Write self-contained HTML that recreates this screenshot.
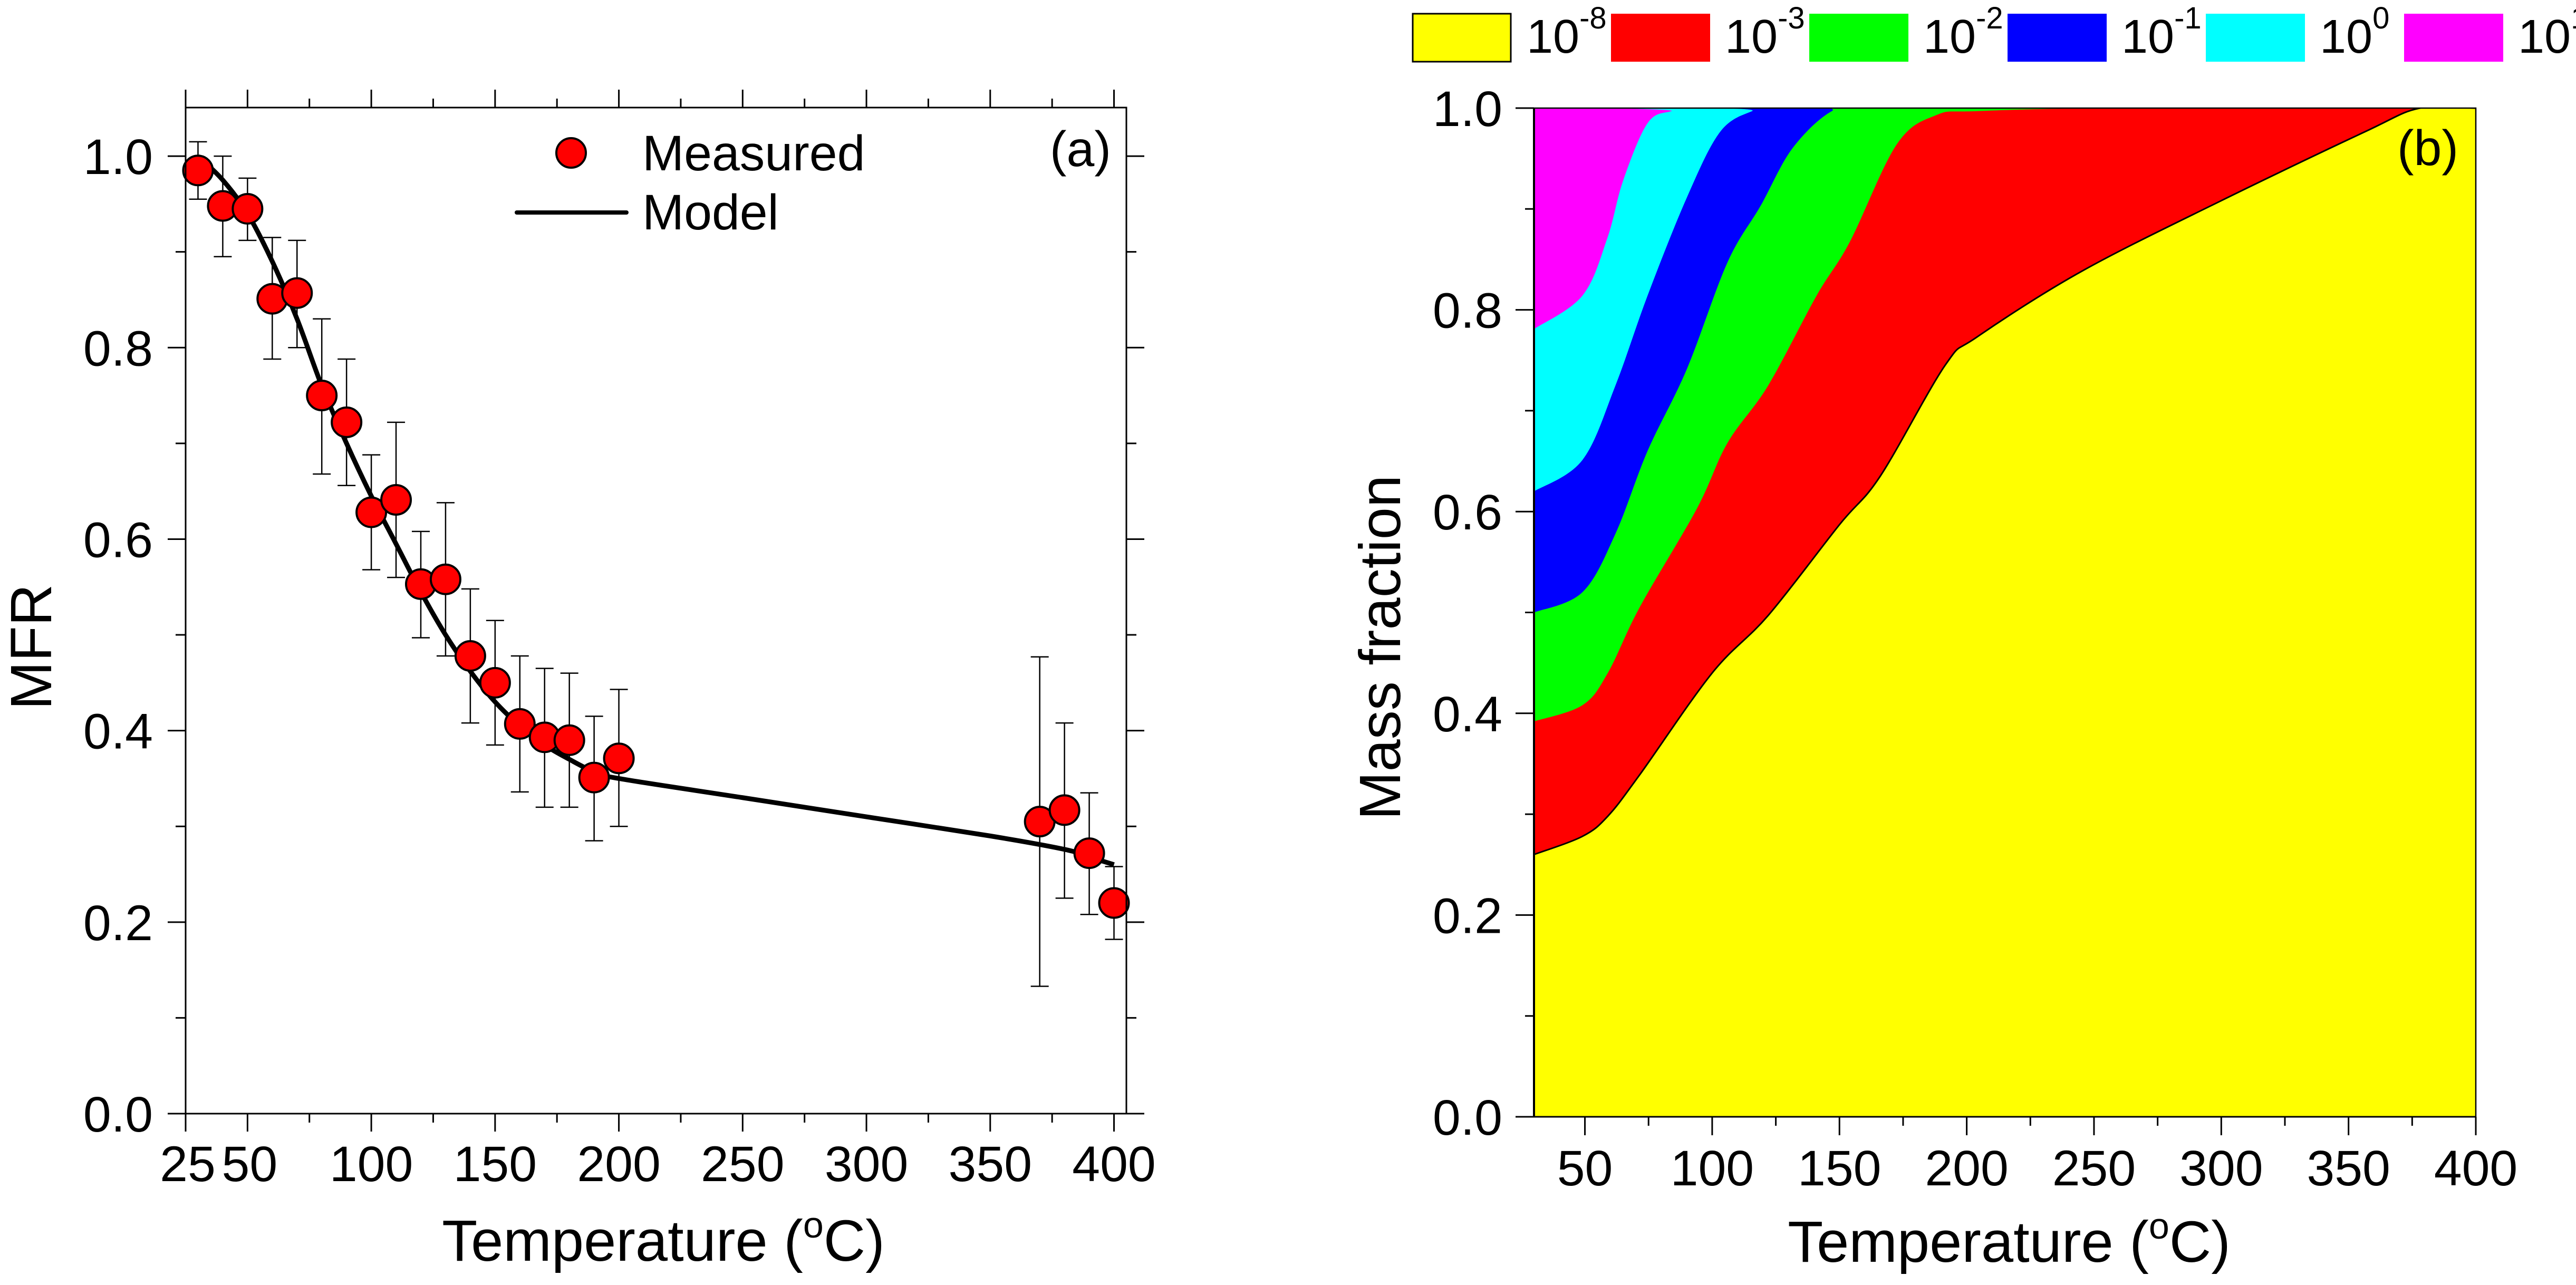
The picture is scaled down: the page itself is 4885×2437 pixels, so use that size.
<!DOCTYPE html>
<html><head><meta charset="utf-8"><style>
html,body{margin:0;padding:0;background:#fff;}
svg{display:block;font-family:"Liberation Sans",Arial,sans-serif;}
</style></head><body>
<svg id="fig" width="4885" height="2437" viewBox="0 0 4885 2437" xmlns="http://www.w3.org/2000/svg">
<defs><clipPath id="clipb"><rect x="2909" y="205" width="1786" height="1913"/></clipPath></defs>
<rect width="4885" height="2437" fill="#fff"/>
<g id="pa"></g>
<g id="pb"></g>
</svg>
<script>
// ---- Panel (a) data ----
const aTemps = [30,40,50,60,70,80,90,100,110,120,130,140,150,160,170,180,190,200,370,380,390,400];
const aMFR = [0.985,0.948,0.945,0.851,0.857,0.750,0.722,0.628,0.641,0.553,0.558,0.478,0.450,0.407,0.393,0.390,0.351,0.371,0.305,0.317,0.272,0.220];
const aErrHi = [1.015,1.0,0.977,0.915,0.912,0.83,0.788,0.688,0.722,0.608,0.638,0.548,0.515,0.478,0.465,0.46,0.415,0.443,0.477,0.408,0.335,0.258];
const aErrLo = [0.955,0.895,0.912,0.788,0.80,0.668,0.656,0.568,0.56,0.497,0.478,0.408,0.385,0.336,0.32,0.32,0.285,0.30,0.133,0.225,0.208,0.182];
const modelT = [30,40,50,60,70,80,90,100,110,120,130,140,150,160,170,180,190,200,250,300,350,380,390,400];
const modelY = [1.0,0.975,0.94,0.89,0.83,0.76,0.70,0.645,0.595,0.545,0.50,0.462,0.43,0.405,0.385,0.37,0.357,0.35,0.33,0.31,0.29,0.276,0.268,0.26];
const aXTicks = [25,50,100,150,200,250,300,350,400];
const aYTicks = [0.0,0.2,0.4,0.6,0.8,1.0];
// ---- Panel (b) data ----
const bXTicks = [50,100,150,200,250,300,350,400];
const bYTicks = [0.0,0.2,0.4,0.6,0.8,1.0];
const bandLabels = ["-8","-3","-2","-1","0","1"];
const bandColors = ["#ffff00","#ff0000","#00ff00","#0000ff","#00ffff","#ff00ff"];
const yellowT = [30,49,59,71.5,100,122,150,166,191.5,204,245,299,356,378,400];
const yellowY = [0.26,0.278,0.298,0.339,0.44,0.497,0.587,0.635,0.745,0.773,0.838,0.907,0.976,1.0,1.0];
const redT = [30,49,59,71.5,94,106,122,141,154,172.5,188,204,261,400];
const redY = [0.392,0.408,0.44,0.505,0.603,0.668,0.725,0.814,0.867,0.964,0.993,0.997,1.0,1.0];
const greenT = [30,49,62,74.6,90,106,119,131.5,147,160,400];
const greenY = [0.50,0.52,0.578,0.66,0.741,0.847,0.903,0.96,0.997,1.0,1.0];
const blueT = [30,49,62,74.6,90,103,115.7,125,400];
const blueY = [0.62,0.651,0.725,0.814,0.911,0.976,0.997,1.0,1.0];
const cyanT = [30,49,58.8,65,74.6,84,93.6,400];
const cyanY = [0.781,0.814,0.871,0.928,0.985,0.997,1.0,1.0];

const NS="http://www.w3.org/2000/svg";
function mk(parent,tag,attrs,text){const e=document.createElementNS(NS,tag);for(const k in attrs)e.setAttribute(k,attrs[k]);if(text!==undefined)e.textContent=text;parent.appendChild(e);return e;}
function smooth(pts){let d="M"+pts[0][0]+","+pts[0][1];for(let i=0;i<pts.length-1;i++){const p0=pts[Math.max(0,i-1)],p1=pts[i],p2=pts[i+1],p3=pts[Math.min(pts.length-1,i+2)];const c1=[p1[0]+(p2[0]-p0[0])/6,p1[1]+(p2[1]-p0[1])/6],c2=[p2[0]-(p3[0]-p1[0])/6,p2[1]-(p3[1]-p1[1])/6];d+=" C"+c1[0]+","+c1[1]+" "+c2[0]+","+c2[1]+" "+p2[0]+","+p2[1];}return d;}

// ===== Panel A =====
const pa=document.getElementById('pa');
const aL=352,aR=2136,aT=204,aB=2112;
const ax=t=>aL+(t-25)*(aR-aL)/380;
const ay=v=>aB-v*(aB-aT)/1.0507;
const mpts=modelT.map((t,i)=>[ax(t),ay(modelY[i])]);
let ml=mk(pa,'path',{d:smooth(mpts),fill:'none',stroke:'#000','stroke-width':9,'stroke-linejoin':'round'});

aTemps.forEach((t,i)=>{
  const g=mk(pa,'g',{});
  
  const x=ax(t);
  mk(g,'line',{x1:x,x2:x,y1:ay(aErrHi[i]),y2:ay(aErrLo[i]),stroke:'#000','stroke-width':2.5});
  mk(g,'line',{x1:x-17,x2:x+17,y1:ay(aErrHi[i]),y2:ay(aErrHi[i]),stroke:'#000','stroke-width':2.5});
  mk(g,'line',{x1:x-17,x2:x+17,y1:ay(aErrLo[i]),y2:ay(aErrLo[i]),stroke:'#000','stroke-width':2.5});
});
aTemps.forEach((t,i)=>{
  const c=mk(pa,'circle',{cx:ax(t),cy:ay(aMFR[i]),r:28,fill:'#ff0000',stroke:'#000','stroke-width':4});
  
});
let fr=mk(pa,'rect',{x:aL,y:aT,width:aR-aL,height:aB-aT,fill:'none',stroke:'#000','stroke-width':3});

for(let t=25;t<=400;t+=25){
  const major=aXTicks.includes(t);const L=major?34:17;const x=ax(t);
  mk(pa,'line',{x1:x,x2:x,y1:aB,y2:aB+L,stroke:'#000','stroke-width':3});
  mk(pa,'line',{x1:x,x2:x,y1:aT,y2:aT-L,stroke:'#000','stroke-width':3});
}
aXTicks.forEach(t=>{const tx=mk(pa,'text',{x:t==25?ax(t)+4:(t==50?ax(t)+4:ax(t)),y:2240,'font-size':95,'text-anchor':'middle'},String(t));
  });
for(let k=0;k<=10;k++){const v=k/10;const major=k%2==0;const L=major?34:19;const y=ay(v);
  mk(pa,'line',{x1:aL-L,x2:aL,y1:y,y2:y,stroke:'#000','stroke-width':3});
  mk(pa,'line',{x1:aR,x2:aR+L,y1:y,y2:y,stroke:'#000','stroke-width':3});}
aYTicks.forEach(v=>{const tx=mk(pa,'text',{x:290,y:ay(v)+34,'font-size':95,'text-anchor':'end'},v.toFixed(1));
  });
let yt=mk(pa,'text',{x:0,y:0,'font-size':110,'text-anchor':'middle',transform:'translate(97,1227) rotate(-90)'},'MFR');

let xt=mk(pa,'text',{x:1258,y:2391,'font-size':110,'text-anchor':'middle'});

xt.appendChild(document.createTextNode('Temperature ('));
mk(xt,'tspan',{'font-size':70,dy:-44},'o');mk(xt,'tspan',{dy:44},'C)');
let lg=mk(pa,'g',{});
mk(lg,'circle',{cx:1083,cy:290,r:28,fill:'#ff0000',stroke:'#000','stroke-width':4});
mk(lg,'text',{x:1218,y:323,'font-size':95},'Measured');
mk(lg,'line',{x1:980,x2:1188,y1:403,y2:403,stroke:'#000','stroke-width':8,'stroke-linecap':'round'});
mk(lg,'text',{x:1218,y:435,'font-size':95},'Model');
let la=mk(pa,'text',{x:2107,y:315,'font-size':95,'text-anchor':'end'},'(a)');


// ===== Panel B =====
const pb=document.getElementById('pb');
const bL=2909,bR=4695,bT=205,bB=2118;
const bx=t=>bL+(t-30)*(bR-bL)/370;
const by=v=>bB-v*(bB-bT);
const bandG=mk(pb,'g',{'clip-path':'url(#clipb)'});

let bg=mk(bandG,'rect',{x:bL,y:bT,width:bR-bL,height:bB-bT,fill:bandColors[5]});

const bands=[[cyanT,cyanY,4,'band-10^0'],[blueT,blueY,3,'band-10^-1'],[greenT,greenY,2,'band-10^-2'],[redT,redY,1,'band-10^-3'],[yellowT,yellowY,0,'band-10^-8']];
bands.forEach(([T,Y,ci,name])=>{
  const pts=T.map((t,i)=>[bx(t),by(Y[i])]);
  const d=smooth(pts)+" L"+bx(400)+","+by(0)+" L"+bx(30)+","+by(0)+" Z";
  const p=mk(bandG,'path',{d:d,fill:bandColors[ci],stroke:'none'});
  
  if(ci===0){const e=mk(bandG,'path',{d:smooth(pts),fill:'none',stroke:'#000','stroke-width':3});
    }
});
let fb=mk(pb,'rect',{x:bL,y:bT,width:bR-bL,height:bB-bT,fill:'none',stroke:'#000','stroke-width':2.5});

mk(pb,'line',{x1:bL,x2:bL,y1:bT,y2:bB,stroke:'#000','stroke-width':4});
mk(pb,'line',{x1:bL-35,x2:bR,y1:bB,y2:bB,stroke:'#000','stroke-width':3});
for(let t=50;t<=400;t+=25){const major=bXTicks.includes(t);const L=major?35:17;const x=bx(t);
  mk(pb,'line',{x1:x,x2:x,y1:bB,y2:bB+L,stroke:'#000','stroke-width':3});}
bXTicks.forEach(t=>{const tx=mk(pb,'text',{x:bx(t),y:2248,'font-size':95,'text-anchor':'middle'},String(t));
  });
for(let k=0;k<=10;k++){const v=k/10;const L=k%2==0?35:17;const y=by(v);
  mk(pb,'line',{x1:bL-L,x2:bL,y1:y,y2:y,stroke:'#000','stroke-width':3});}
bYTicks.forEach(v=>{const tx=mk(pb,'text',{x:2849,y:by(v)+34,'font-size':95,'text-anchor':'end'},v.toFixed(1));
  });
let byt=mk(pb,'text',{x:0,y:0,'font-size':110,'text-anchor':'middle',transform:'translate(2655,1228) rotate(-90)'},'Mass fraction');

let bxt=mk(pb,'text',{x:3810,y:2393,'font-size':110,'text-anchor':'middle'});

bxt.appendChild(document.createTextNode('Temperature ('));
mk(bxt,'tspan',{'font-size':70,dy:-44},'o');mk(bxt,'tspan',{dy:44},'C)');
let lb=mk(pb,'text',{x:4662,y:313,'font-size':95,'text-anchor':'end'},'(b)');

bandLabels.forEach((lab,i)=>{
  const x0=2679+i*376;
  const g=mk(pb,'g',{});
  
  mk(g,'rect',{x:x0,y:26,width:i===0?186:188,height:91,fill:bandColors[i],stroke:i===0?'#000':'none','stroke-width':3});
  const t=mk(g,'text',{x:x0+216,y:100,'font-size':90});
  t.appendChild(document.createTextNode('10'));
  mk(t,'tspan',{'font-size':58,dy:-46},lab);
});
</script>
</body></html>
